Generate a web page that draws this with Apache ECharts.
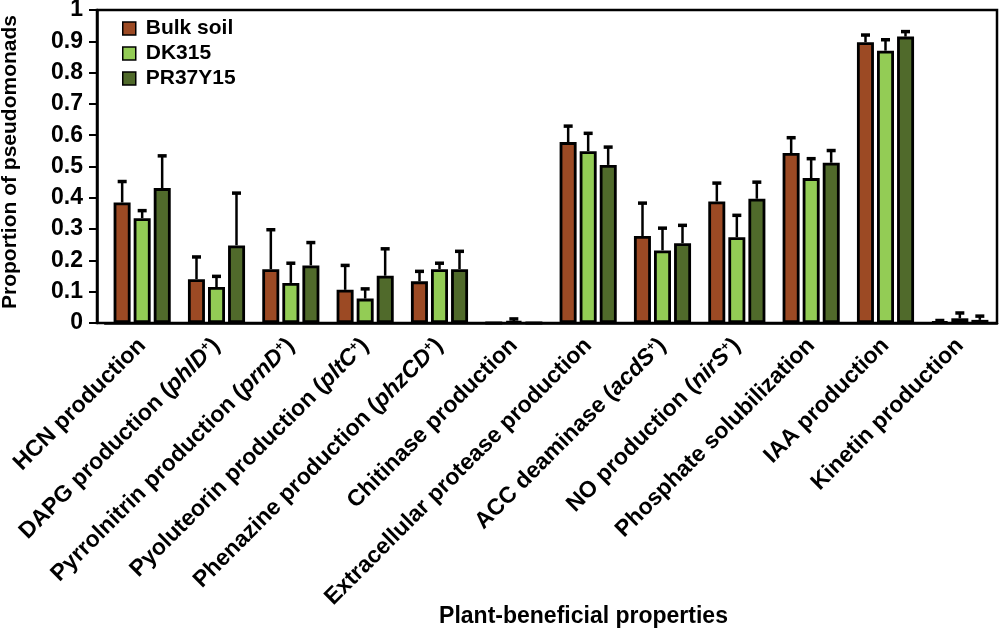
<!DOCTYPE html>
<html>
<head>
<meta charset="utf-8">
<script src="https://cdn.jsdelivr.net/npm/echarts@6/dist/echarts.min.js"></script>
<style>html,body{margin:0;padding:0;background:#fff}#c{width:1000px;height:628px}</style>
</head>
<body>
<div id="c"></div>
<script>
var categories = ['HCN production', 'DAPG production (phlD+)', 'Pyrrolnitrin production (prnD+)',
  'Pyoluteorin production (pltC+)', 'Phenazine production (phzCD+)', 'Chitinase production',
  'Extracellular protease production', 'ACC deaminase (acdS+)', 'NO production (nirS+)',
  'Phosphate solubilization', 'IAA production', 'Kinetin production'];
var seriesNames = ['Bulk soil', 'DK315', 'PR37Y15'];
var bulkSoil = [0.385, 0.140, 0.172, 0.106, 0.133, 0, 0.578, 0.278, 0.388, 0.543, 0.897, 0.004];
var bulkSoilErr = [0.067, 0.071, 0.126, 0.078, 0.032, 0, 0.051, 0.105, 0.059, 0.049, 0.023, 0.004];
var dk315 = [0.335, 0.115, 0.128, 0.078, 0.172, 0.005, 0.549, 0.232, 0.274, 0.463, 0.870, 0.015];
var dk315Err = [0.024, 0.034, 0.063, 0.031, 0.019, 0.008, 0.057, 0.071, 0.070, 0.062, 0.035, 0.017];
var pr37y15 = [0.431, 0.248, 0.184, 0.151, 0.172, 0, 0.505, 0.255, 0.397, 0.512, 0.915, 0.010];
var pr37y15Err = [0.103, 0.167, 0.073, 0.086, 0.057, 0, 0.057, 0.057, 0.053, 0.039, 0.016, 0.012];
var yTicks = [0, 0.1, 0.2, 0.3, 0.4, 0.5, 0.6, 0.7, 0.8, 0.9, 1];

var FONT = 'Liberation Sans, Arial, sans-serif';
var colors = ['#9C4A24', '#93CC55', '#506A2B'];
var values = [bulkSoil, dk315, pr37y15];
var errs = [bulkSoilErr, dk315Err, pr37y15Err];
var offsets = [-20, 0, 20];

function errRender(offset) {
  return function (params, api) {
    var x = api.value(0), v = api.value(1), e = api.value(2);
    if (!(e > 0)) return;
    var p0 = api.coord([x, v]);
    var p1 = api.coord([x, v + e]);
    var cx = p0[0] + offset;
    return {
      type: 'group',
      children: [
        {type: 'line', shape: {x1: cx, y1: p0[1], x2: cx, y2: p1[1]}, style: {stroke: '#000', lineWidth: 2.5}},
        {type: 'line', shape: {x1: cx - 4.5, y1: p1[1], x2: cx + 4.5, y2: p1[1]}, style: {stroke: '#000', lineWidth: 3.5}}
      ]
    };
  };
}

var series = [];
seriesNames.forEach(function (n, k) {
  series.push({
    name: n, type: 'bar', xAxisIndex: 1, yAxisIndex: 1,
    data: values[k], barWidth: 17, barGap: '18%',
    itemStyle: {color: colors[k], borderColor: '#000', borderWidth: 2.8},
    emphasis: {disabled: true}
  });
});
seriesNames.forEach(function (n, k) {
  series.push({
    type: 'custom', xAxisIndex: 1, yAxisIndex: 1, z: 5,
    renderItem: errRender(offsets[k]),
    encode: {x: 0, y: 1},
    data: values[k].map(function (v, i) { return [i, v, errs[k][i]]; })
  });
});

var chart = echarts.init(document.getElementById('c'), null, {renderer: 'canvas'});
chart.setOption({
  animation: false,
  textStyle: {fontFamily: FONT},
  legend: {
    data: seriesNames, orient: 'vertical', left: 122, top: 18, padding: 0,
    itemWidth: 13, itemHeight: 13, itemGap: 4,
    icon: 'rect',
    itemStyle: {borderColor: '#000', borderWidth: 1.5},
    textStyle: {fontFamily: FONT, fontSize: 21, fontWeight: 'bold', color: '#000', lineHeight: 21, padding: [0, 0, 0, 5]}
  },
  grid: [
    {left: 97, right: 3, top: 10, bottom: 305, show: true, borderColor: '#000', borderWidth: 2.5,
      containLabel: false, outerBoundsMode: 'none'},
    {left: 105, right: 3, top: 10, bottom: 305, containLabel: false, outerBoundsMode: 'none'}
  ],
  xAxis: [
    {type: 'category', gridIndex: 0, data: [], show: false},
    {
      type: 'category', gridIndex: 1, data: categories,
      axisLine: {show: true, lineStyle: {color: '#000', width: 2.5}},
      axisTick: {show: false},
      axisLabel: {
        interval: 0, rotate: 45, margin: 19, color: '#000',
        fontFamily: FONT, fontSize: 23, fontWeight: 'bold',
        formatter: function (s) { return s.replace(/\((\w+)\+\)/, '({i|$1}{s|+})'); },
        rich: {
          i: {fontStyle: 'italic', fontWeight: 'bold', fontSize: 23, fontFamily: FONT, color: '#000'},
          s: {fontWeight: 'bold', fontSize: 13, fontFamily: FONT, color: '#000', verticalAlign: 'top', lineHeight: 13}
        }
      },
      name: 'Plant-beneficial properties', nameLocation: 'middle', nameGap: 282, nameMoveOverlap: false,
      nameTextStyle: {fontFamily: FONT, fontSize: 23, fontWeight: 'bold', color: '#000', padding: [0, 0, 0, 65]}
    }
  ],
  yAxis: [
    {
      type: 'value', gridIndex: 0, min: 0, max: 1, interval: 0.1,
      axisLine: {show: true, lineStyle: {color: '#000', width: 2.5}},
      axisTick: {show: true, length: 8, lineStyle: {color: '#000', width: 2}},
      splitLine: {show: false},
      axisLabel: {color: '#000', fontFamily: FONT, fontSize: 23, fontWeight: 'bold', margin: 14,
        customValues: yTicks},
      name: 'Proportion of pseudomonads', nameLocation: 'middle', nameGap: 76, nameMoveOverlap: false,
      nameTextStyle: {fontFamily: FONT, fontSize: 21, fontWeight: 'bold', color: '#000', padding: [0, 0, 0, 9]}
    },
    {type: 'value', gridIndex: 1, min: 0, max: 1, interval: 0.1, show: false, splitLine: {show: false}}
  ],
  series: series
});
</script>
</body>
</html>
